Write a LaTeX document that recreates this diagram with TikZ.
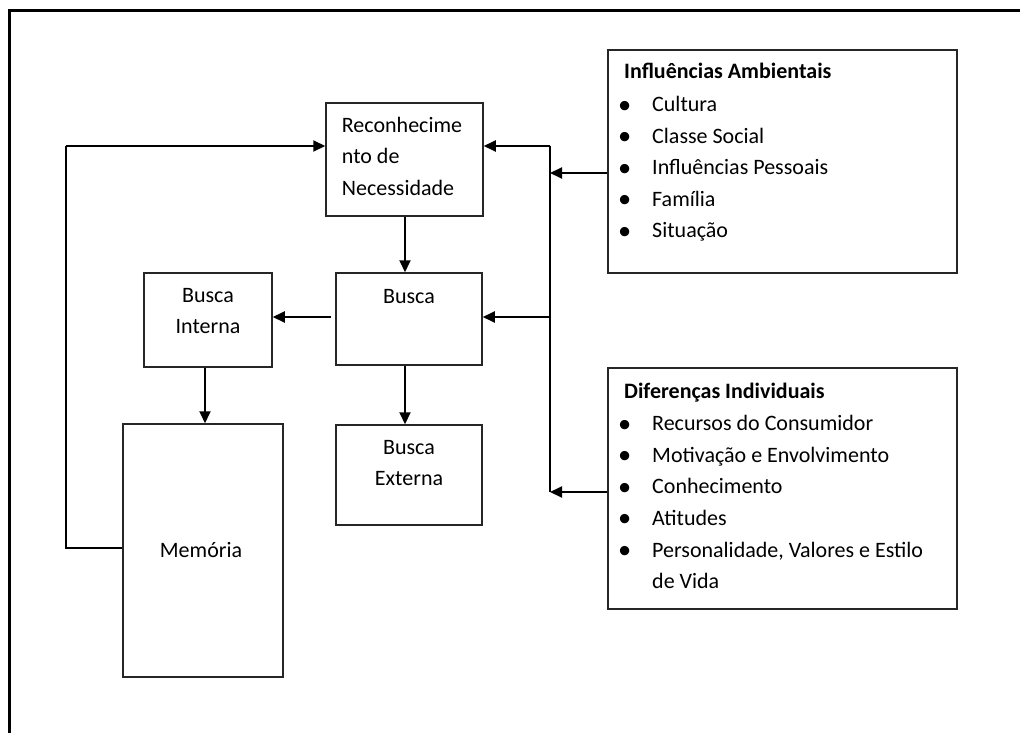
\documentclass[tikz,border=0pt]{standalone}
\usepackage{fontspec}
\usepackage{graphicx}
\setmainfont{Carlito}
\usetikzlibrary{arrows.meta}
\newcommand{\bulletmark}{\raisebox{-1.5pt}{\scalebox{1.2}{\textbullet}}}
\begin{document}
\begin{tikzpicture}[x=1pt,y=-1pt,
  box/.style={draw=black!85, line width=1.5pt, inner sep=0pt, rectangle},
  txt/.style={inner sep=0pt, font=\fontsize{22}{31.5}\selectfont},
  lst/.style={inner sep=0pt, font=\fontsize{22}{31.6}\selectfont, anchor=base west},
  arr/.style={line width=2pt, -{Triangle[length=12pt,width=11pt]}},
  ln/.style={line width=2pt},
  frame/.style={line width=3pt}
]
\useasboundingbox (0,0) rectangle (1020,733);
% outer frame
\draw[frame] (9.5,733) -- (9.5,10.5) -- (1020,10.5);

% boxes
\node[box, minimum width=157pt, minimum height=113pt] (rec) at (404.5,159.5) {};
\node[box, minimum width=146pt, minimum height=92pt] (busca) at (409,319) {};
\node[box, minimum width=146pt, minimum height=100pt] (ext) at (409,475) {};
\node[box, minimum width=128pt, minimum height=94pt] (int) at (208,320) {};
\node[box, minimum width=160pt, minimum height=253pt] (mem) at (203,550.5) {};
\node[box, minimum width=349pt, minimum height=223pt] (amb) at (782.5,161.5) {};
\node[box, minimum width=349pt, minimum height=241pt] (ind) at (782.5,488.5) {};

% texts
\node[txt, anchor=base west] (trec) at (341.7,132) {\begin{tabular}[t]{@{}l@{}}Reconhecime\\nto de\\Necessidade\end{tabular}};
\node[txt, anchor=base] (tbusca) at (409,303) {Busca};
\node[txt, anchor=base] (text) at (409,454) {\begin{tabular}[t]{@{}c@{}}Busca\\Externa\end{tabular}};
\node[txt, anchor=base] (tint) at (208,302) {\begin{tabular}[t]{@{}c@{}}Busca\\Interna\end{tabular}};
\node[txt, anchor=base] (tmem) at (201,557) {Memória};

\node[lst] (tamb) at (618,79) {\begin{tabular}[t]{@{}p{34pt}@{}l@{}}
\multicolumn{2}{@{\hspace{6pt}}l@{}}{\bfseries Influências Ambientais}\\[1pt]
\bulletmark & Cultura\\
\bulletmark & Classe Social\\
\bulletmark & Influências Pessoais\\
\bulletmark & Família\\
\bulletmark & Situação
\end{tabular}};

\node[lst] (tind) at (618,398) {\begin{tabular}[t]{@{}p{34pt}@{}l@{}}
\multicolumn{2}{@{\hspace{6pt}}l@{}}{\bfseries Diferenças Individuais}\\[1pt]
\bulletmark & Recursos do Consumidor\\
\bulletmark & Motivação e Envolvimento\\
\bulletmark & Conhecimento\\
\bulletmark & Atitudes\\
\bulletmark & Personalidade, Valores e Estilo\\
 & de Vida
\end{tabular}};

% junction coordinates
\coordinate (jtop) at (550,146);
\coordinate (jbus) at (550,317);
\coordinate (jamb) at (550,173);
\coordinate (jbot) at (550,492);
\coordinate (fbx) at (66,146);
\coordinate (fby) at (66,548);
\coordinate (bstart) at (331,317);

% connectors
\draw[arr] (rec.south -| 405,0) -- (busca.north -| 405,0);
\draw[arr] (busca.south -| 405,0) -- (ext.north -| 405,0);
\draw[arr] (bstart) -- (bstart -| int.east);
\draw[arr] (int.south -| 205,0) -- (mem.north -| 205,0);
\draw[ln] (mem.west |- fby) -- (fby) -- (fbx);
\draw[arr] (fbx) -- (fbx -| rec.west);
\draw[ln] (jtop) -- (jbot);
\draw[arr] (jtop) -- (jtop -| rec.east);
\draw[arr] (jbus) -- (jbus -| busca.east);
\draw[arr] (amb.west |- jamb) -- (jamb);
\draw[arr] (ind.west |- jbot) -- (jbot);
\end{tikzpicture}
\end{document}
